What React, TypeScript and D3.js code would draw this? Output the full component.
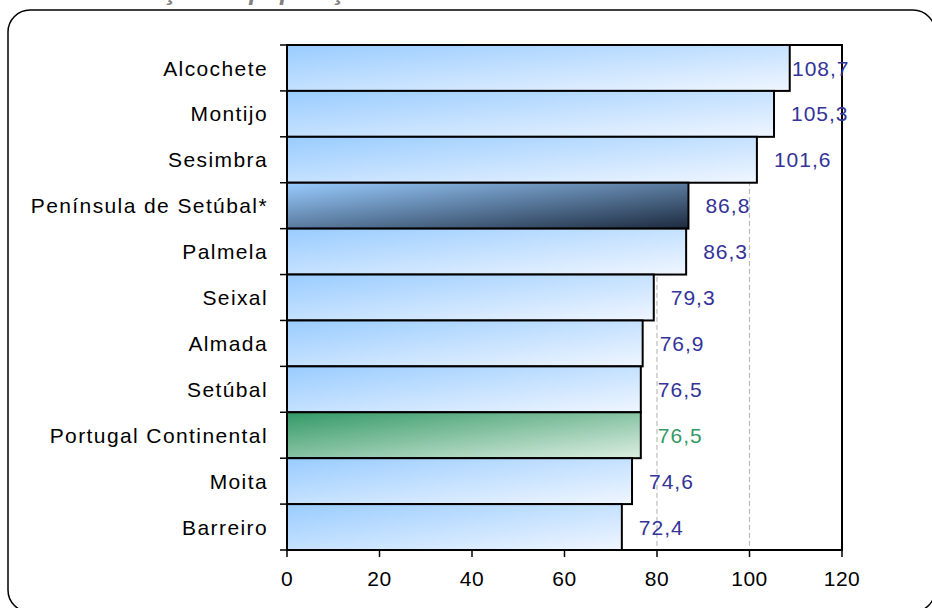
import React, { useRef, useEffect } from "react";
import * as d3 from "d3";

const categories = [
  "Alcochete", "Montijo", "Sesimbra", "Península de Setúbal*", "Palmela", "Seixal",
  "Almada", "Setúbal", "Portugal Continental", "Moita", "Barreiro",
];
const values = [108.7, 105.3, 101.6, 86.8, 86.3, 79.3, 76.9, 76.5, 76.5, 74.6, 72.4];
const xTicks = [0, 20, 40, 60, 80, 100, 120];
const title = "Variação da população";

const W = 932;
const H = 608;
const margin = { top: 45, right: 90, bottom: 58, left: 287 };
const FONT = "'Liberation Sans', Arial, sans-serif";

const fmt = (v: number) => v.toFixed(1).replace(".", ",");

const App: React.FC = () => {
  const svgRef = useRef<SVGSVGElement | null>(null);

  const drawChart = () => {
    if (!svgRef.current) return;
    const root = d3.select(svgRef.current);
    root.selectAll("*").remove();

    const innerW = W - margin.left - margin.right;
    const innerH = H - margin.top - margin.bottom;

    const defs = root.append("defs");
    const grad = (id: string, c0: string, c1: string) => {
      const g = defs.append("linearGradient").attr("id", id)
        .attr("x1", 0).attr("y1", 0).attr("x2", 1).attr("y2", 1);
      g.append("stop").attr("offset", "0%").attr("stop-color", c0);
      g.append("stop").attr("offset", "100%").attr("stop-color", c1);
    };
    grad("gBlue", "#99CCFF", "#F0F6FF");
    grad("gDark", "#99CCFF", "#1C2A3E");
    grad("gGreen", "#339966", "#DDEEE2");

    // outer frame (runs off the right/bottom edge like the original)
    root.append("rect")
      .attr("x", 8).attr("y", 10).attr("width", 927).attr("height", 602)
      .attr("rx", 22).attr("fill", "#fff").attr("stroke", "#000").attr("stroke-width", 1.5);

    // title, mostly cropped above the picture
    root.append("text")
      .attr("x", 103).attr("y", 0)
      .attr("font-family", FONT).attr("font-size", 25).attr("font-weight", "bold")
      .attr("font-style", "italic").attr("fill", "#808080")
      .text(title);

    const svg = root.append("g").attr("transform", `translate(${margin.left},${margin.top})`);

    const x = d3.scaleLinear().domain([0, 120]).range([0, innerW]);
    const y = d3.scaleBand<string>().domain(categories).range([0, innerH]).padding(0);

    // grid
    svg.append("g")
      .selectAll("line")
      .data(xTicks.slice(1, -1))
      .enter().append("line")
      .attr("x1", (d) => x(d)).attr("x2", (d) => x(d))
      .attr("y1", 0).attr("y2", innerH)
      .attr("stroke", "#BBBBBB").attr("stroke-width", 1.2).attr("stroke-dasharray", "5,3");

    // plot border
    svg.append("rect")
      .attr("x", 0).attr("y", 0).attr("width", innerW).attr("height", innerH)
      .attr("fill", "none").attr("stroke", "#000").attr("stroke-width", 2);

    const fillFor = (c: string) =>
      c === "Península de Setúbal*" ? "url(#gDark)" :
      c === "Portugal Continental" ? "url(#gGreen)" : "url(#gBlue)";

    // bars
    svg.append("g")
      .selectAll("rect")
      .data(categories)
      .enter().append("rect")
      .attr("x", 0)
      .attr("y", (d) => y(d)!)
      .attr("width", (d, i) => x(values[i]))
      .attr("height", y.bandwidth())
      .attr("fill", (d) => fillFor(d))
      .attr("stroke", "#000").attr("stroke-width", 2);

    // value labels
    svg.append("g")
      .selectAll("text")
      .data(categories)
      .enter().append("text")
      .attr("x", (d, i) => Math.min(x(values[i]) + 17, 505))
      .attr("y", (d) => y(d)! + y.bandwidth() / 2)
      .attr("dy", "0.36em")
      .attr("font-family", FONT).attr("font-size", 21).attr("letter-spacing", 1)
      .attr("fill", (d) => (d === "Portugal Continental" ? "#339966" : "#333399"))
      .text((d, i) => fmt(values[i]));

    // y axis
    const yAxis = svg.append("g");
    yAxis.append("line").attr("x1", 0).attr("x2", 0).attr("y1", 0).attr("y2", innerH)
      .attr("stroke", "#000").attr("stroke-width", 2);
    yAxis.selectAll("line.tick")
      .data(d3.range(categories.length + 1))
      .enter().append("line").attr("class", "tick")
      .attr("x1", -7).attr("x2", 0)
      .attr("y1", (i) => i * y.step()).attr("y2", (i) => i * y.step())
      .attr("stroke", "#000").attr("stroke-width", 1.5);
    yAxis.selectAll("text")
      .data(categories)
      .enter().append("text")
      .attr("x", -19)
      .attr("y", (d) => y(d)! + y.bandwidth() / 2)
      .attr("dy", "0.36em")
      .attr("text-anchor", "end")
      .attr("font-family", FONT).attr("font-size", 21).attr("letter-spacing", 1.4)
      .attr("fill", "#000")
      .text((d) => d);

    // x axis
    const xAxis = svg.append("g").attr("transform", `translate(0,${innerH})`);
    xAxis.append("line").attr("x1", 0).attr("x2", innerW)
      .attr("stroke", "#000").attr("stroke-width", 2);
    xAxis.selectAll("line.tick")
      .data(xTicks)
      .enter().append("line").attr("class", "tick")
      .attr("x1", (d) => x(d)).attr("x2", (d) => x(d))
      .attr("y1", 0).attr("y2", 7)
      .attr("stroke", "#000").attr("stroke-width", 1.5);
    xAxis.selectAll("text")
      .data(xTicks)
      .enter().append("text")
      .attr("x", (d) => x(d))
      .attr("y", 36)
      .attr("text-anchor", "middle")
      .attr("font-family", FONT).attr("font-size", 21).attr("letter-spacing", 0.5)
      .attr("fill", "#000")
      .text((d) => String(d));
  };

  useEffect(() => {
    drawChart();
  }, []);

  return (
    <svg
      ref={svgRef}
      width={W}
      height={H}
      style={{ position: "absolute", left: 0, top: 0, background: "#fff" }}
    />
  );
};

export default App;
